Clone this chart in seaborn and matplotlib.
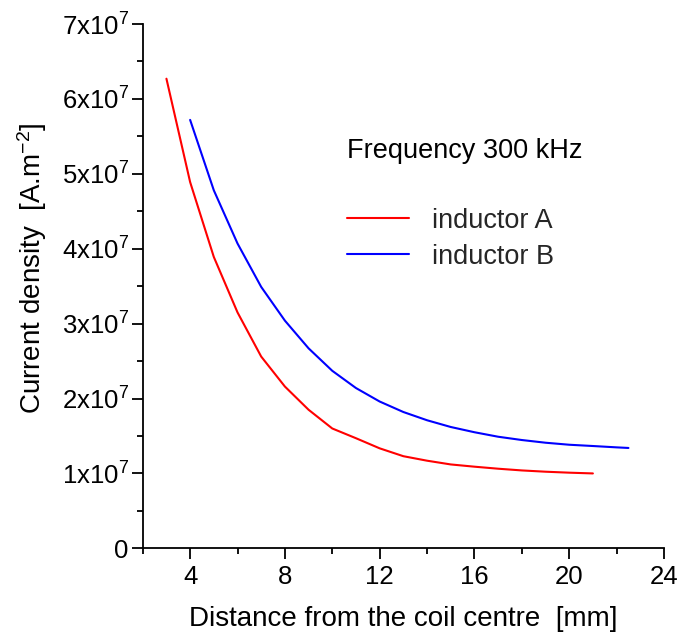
import matplotlib

matplotlib.use("Agg")

import matplotlib.pyplot as plt
import numpy as np
import pandas as pd
import seaborn as sns
from matplotlib.ticker import FuncFormatter, MultipleLocator

# distance from the coil centre [mm] and current density [x1e7 A/m2]
dist_a = [3, 4, 5, 6, 7, 8, 9, 10, 11, 12, 13, 14, 15, 16, 17, 18, 19, 20, 21]
dens_a = [6.27, 4.89, 3.89, 3.15, 2.56, 2.16, 1.85, 1.60, 1.47, 1.335, 1.23,
          1.17, 1.12, 1.09, 1.063, 1.04, 1.023, 1.01, 1.00]

dist_b = [4, 5, 6, 7, 8, 9, 10, 11, 12, 13, 14, 15, 16, 17, 18, 19, 20, 21, 22, 22.5]
dens_b = [5.72, 4.78, 4.07, 3.49, 3.04, 2.67, 2.37, 2.14, 1.96, 1.82, 1.71,
          1.62, 1.55, 1.49, 1.446, 1.41, 1.383, 1.366, 1.348, 1.34]

series_names = ["inductor A", "inductor B"]
series_colors = ["#ff0000", "#0000ff"]

data = pd.concat(
    [
        pd.DataFrame({"distance": dist_a, "density": np.array(dens_a) * 1e7, "series": series_names[0]}),
        pd.DataFrame({"distance": dist_b, "density": np.array(dens_b) * 1e7, "series": series_names[1]}),
    ],
    ignore_index=True,
)

sns.set_style("ticks")
plt.rcParams["font.family"] = ["Liberation Sans", "DejaVu Sans"]
plt.rcParams["mathtext.default"] = "regular"

fig = plt.figure(figsize=(6.81, 6.37), dpi=100)
ax = fig.add_axes([0.2096, 0.1392, 0.7654, 0.8231])

sns.lineplot(
    data=data,
    x="distance",
    y="density",
    hue="series",
    hue_order=series_names,
    palette=series_colors,
    linewidth=1.5,
    sort=False,
    ax=ax,
)

ax.set_xlim(2, 24)
ax.set_ylim(0, 7e7)
ax.xaxis.set_major_locator(MultipleLocator(4))
ax.xaxis.set_minor_locator(MultipleLocator(2))
ax.yaxis.set_major_locator(MultipleLocator(1e7))
ax.yaxis.set_minor_locator(MultipleLocator(0.5e7))


def sci_label(value, pos):
    n = int(round(value / 1e7))
    return "0" if n == 0 else f"{n}x10$^{{7}}$"


ax.yaxis.set_major_formatter(FuncFormatter(sci_label))

sns.despine(ax=ax)
for side in ["left", "bottom"]:
    ax.spines[side].set_linewidth(1.3)
    ax.spines[side].set_color("black")
ax.tick_params(which="major", length=8, width=1.3, labelsize=18.5, color="black",
               labelcolor="black", direction="out")
ax.tick_params(which="minor", length=4, width=1.3, color="black", direction="out")
ax.tick_params(axis="x", which="major", pad=4)
ax.tick_params(axis="y", which="major", pad=2)

ax.set_xlabel("Distance from the coil centre  [mm]", fontsize=20, labelpad=12, color="black")
ax.set_ylabel("Current density  [A.m$^{-2}$]", fontsize=20, labelpad=9, color="black")
ax.yaxis.label.set_y(0.535)

ax.text(0.392, 0.757, "Frequency 300 kHz", transform=ax.transAxes, fontsize=19.5,
        va="center", color="black")
leg = ax.legend(
    loc="upper left",
    bbox_to_anchor=(0.392, 0.65),
    borderaxespad=0,
    borderpad=0,
    frameon=False,
    fontsize=19.5,
    handlelength=2.3,
    handletextpad=0.85,
    labelspacing=0.37,
    title=None,
)
for line in leg.get_lines():
    line.set_linewidth(1.5)

fig.savefig("out.png", dpi=100)
